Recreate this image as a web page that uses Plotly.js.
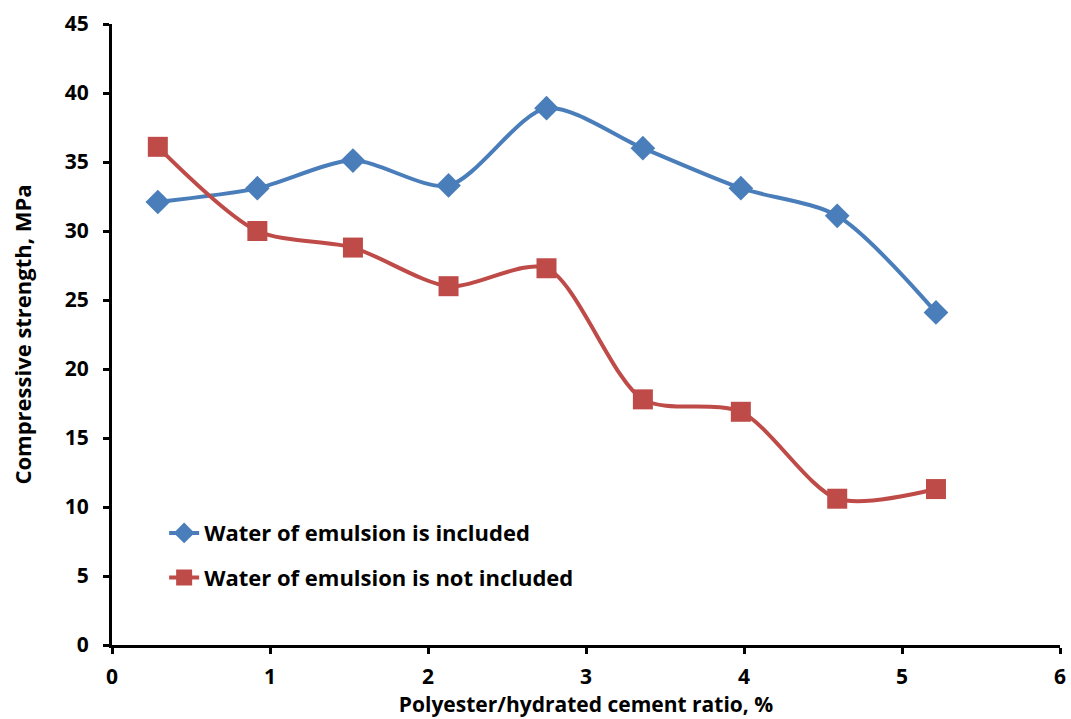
<!DOCTYPE html>
<html><head><meta charset="utf-8">
<script src="https://cdn.plot.ly/plotly-3.0.1.min.js"></script>
<style>html,body{margin:0;padding:0;background:#fff}#chart{width:1071px;height:719px}</style>
</head><body><div id="chart"></div>
<script>
const ratio = [0.29, 0.92, 1.525, 2.13, 2.75, 3.36, 3.98, 4.59, 5.215];
const strengthIncluded = [32.1, 33.1, 35.1, 33.3, 38.9, 36.0, 33.1, 31.1, 24.1];
const strengthNotIncluded = [36.1, 30.0, 28.8, 26.0, 27.3, 17.8, 16.9, 10.6, 11.3];
const seriesNames = ['Water of emulsion is included', 'Water of emulsion is not included'];

const font = "'Open Sans', 'Noto Sans', sans-serif";
const traces = [
  {x: ratio, y: strengthIncluded, name: seriesNames[0], legendgroup: 'a', mode: 'lines+markers',
   line: {color: '#4a7ebb', width: 4, shape: 'spline', smoothing: 0.8},
   marker: {symbol: 'diamond', size: 19, color: '#4a7ebb'}},
  {x: ratio, y: strengthNotIncluded, name: seriesNames[1], legendgroup: 'b', mode: 'lines+markers',
   line: {color: '#be4b48', width: 4, shape: 'spline', smoothing: 0.8},
   marker: {symbol: 'square', size: 20, color: '#be4b48'}}
];
const layout = {
  width: 1071, height: 719,
  margin: {l: 112, r: 11, t: 24, b: 74},
  paper_bgcolor: '#fff', plot_bgcolor: '#fff',
  font: {family: font, color: '#000'},
  showlegend: true,
  legend: {x: 0.055, y: 0.214, xanchor: 'left', yanchor: 'top', bgcolor: 'rgba(0,0,0,0)',
           traceorder: 'grouped', tracegroupgap: 13,
           font: {family: font, size: 22, color: '#000', weight: 'bold'}},
  xaxis: {range: [0, 6], dtick: 1, tick0: 0, showgrid: false, zeroline: false,
          showline: true, linecolor: '#000', linewidth: 3,
          ticks: 'outside', ticklen: 6, tickwidth: 3, tickcolor: '#000',
          ticklabelstandoff: 5,
          tickfont: {family: font, size: 21, weight: 'bold'},
          title: {text: 'Polyester/hydrated cement ratio, %', standoff: 6,
                  font: {family: font, size: 21, weight: 'bold'}}},
  yaxis: {range: [0, 45], dtick: 5, tick0: 0, showgrid: false, zeroline: false,
          showline: true, linecolor: '#000', linewidth: 3,
          ticks: 'outside', ticklen: 6, tickwidth: 3, tickcolor: '#000',
          ticklabelstandoff: 10,
          tickfont: {family: font, size: 21, weight: 'bold'},
          title: {text: 'Compressive strength, MPa', standoff: 28,
                  font: {family: font, size: 22, weight: 'bold'}}}
};
Plotly.newPlot('chart', traces, layout, {displayModeBar: false, staticPlot: true});
</script></body></html>
